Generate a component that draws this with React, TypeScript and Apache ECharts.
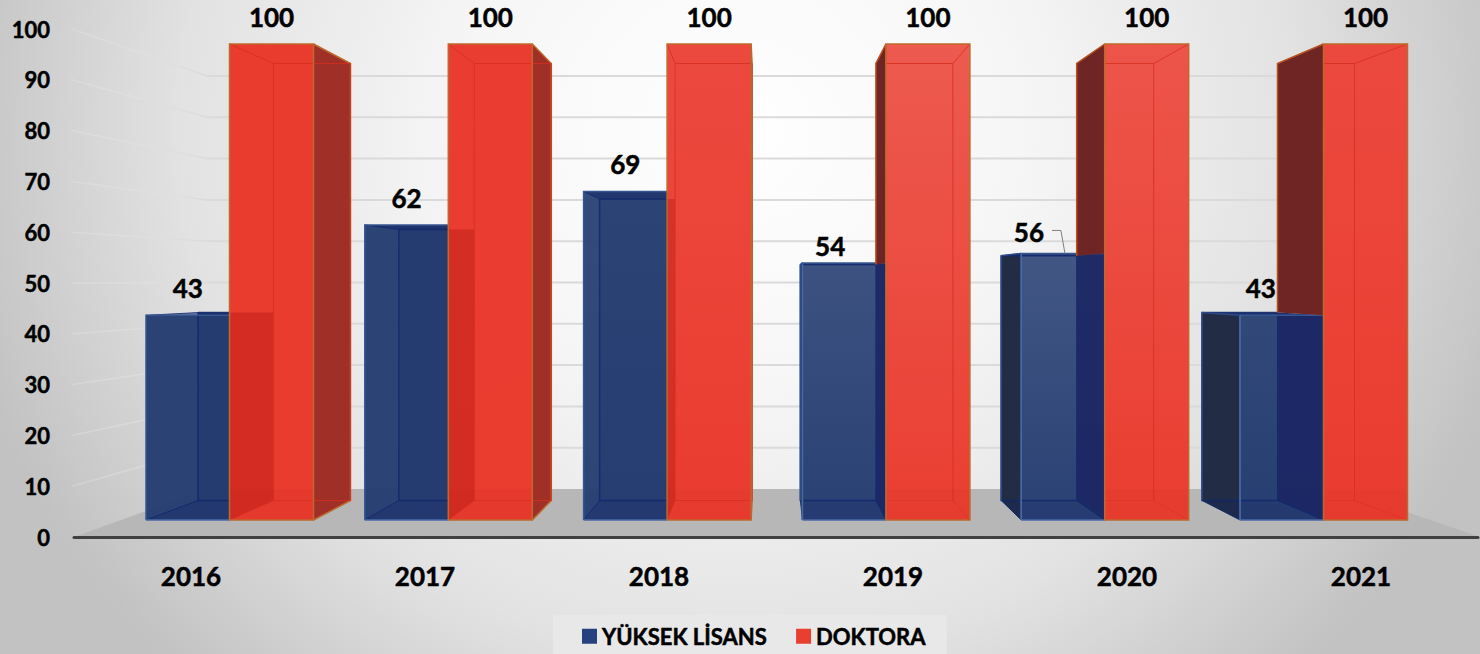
import React, { useEffect, useRef } from "react";
import * as echarts from "echarts";

const years = ["2016", "2017", "2018", "2019", "2020", "2021"];
const yuksekLisans = [43, 62, 69, 54, 56, 43];
const doktora = [100, 100, 100, 100, 100, 100];
const yTicks = [10, 20, 30, 40, 50, 60, 70, 80, 90, 100];

const FONT = "Lato, 'Open Sans', sans-serif";
const AX0 = 191, AXSTEP = 234, AY0 = 537, AYH = 508;
const fx = (ax: number) => 229.5 + ((ax - AX0) * 218.8) / AXSTEP;
const bx = (ax: number) => 273.5 + ((ax - AX0) * 200.8) / AXSTEP;
const fy = (ay: number) => 520 - ((AY0 - ay) * 476) / AYH;
const by = (ay: number) => 500.5 - ((AY0 - ay) * 437) / AYH;
const wy = (ay: number) => 489 - ((AY0 - ay) * 413) / AYH;

const sheenBlue = [0, 0, 0.03, 0.09, 0.11, 0.05];
const sheenRed = [0, 0.01, 0.06, 0.13, 0.11, 0.06];
const blueNudge = [[0, -27], [0, -27], [0, -28], [-14, -17], [-34, -21], [-21, -27]];

function mix(rgb: number[], k: number, a: number) {
  const c = rgb.map((v) => Math.round(v + (255 - v) * k));
  return `rgba(${c[0]},${c[1]},${c[2]},${a})`;
}
const poly = (points: number[][], fill: any, extra: any = {}) => ({
  type: "polygon",
  shape: { points },
  style: { fill, stroke: "none", ...extra },
});
const line = (points: number[][], stroke: any, lineWidth = 1) => ({
  type: "polyline",
  shape: { points },
  style: { fill: "none", stroke, lineWidth },
});
const label = (text: string, x: number, y: number) => ({
  type: "text",
  style: {
    text,
    x,
    y,
    align: "center",
    verticalAlign: "middle",
    font: `bold 26px ${FONT}`,
    fill: "#000",
    stroke: "#000",
    lineWidth: 0.5,
  },
});

function renderBlue(_: any, api: any) {
  const i = api.value(0);
  const v = api.value(1);
  const [ax, ay] = api.coord([i, v]);
  const [, a0] = api.coord([i, 0]);
  const fl = fx(ax) - 83.5, fr = fx(ax), bl = bx(ax) - 75.5, br = bx(ax);
  const ft = fy(ay), fb = fy(a0), bt = by(ay), bb = by(a0);
  const k = sheenBlue[i];
  const kids: any[] = [];
  const base = [36, 60, 112];
  kids.push(poly([[bl, bt], [br, bt], [br, bb], [bl, bb]], mix(base, k, 1)));
  if (bl < fl) kids.push(poly([[bl, bt], [fl, ft], [fl, fb], [bl, bb]], "#222d45"));
  if (br > fr) kids.push(poly([[fr, ft], [br, bt], [br, bb], [fr, fb]], "#1f3468"));
  kids.push(
    poly(
      [[fl, ft], [fr, ft], [fr, fb], [fl, fb]],
      new echarts.graphic.LinearGradient(0, 0, 0, 1, [
        { offset: 0, color: mix(base, k * 1.25, 0.96) },
        { offset: 1, color: mix(base, k * 0.2, 0.96) },
      ])
    )
  );
  if (br < fr) kids.push(poly([[br, bt], [fr, ft], [fr, fb], [br, bb]], "rgba(27,38,100,0.9)"));
  kids.push(poly([[fl, fb], [fr, fb], [br, bb], [bl, bb]], "rgba(18,36,100,0.28)"));
  kids.push(poly([[fl, ft], [fr, ft], [br, bt], [bl, bt]], "rgba(18,36,100,0.5)"));
  const inner = "rgba(16,40,110,0.85)";
  kids.push(line([[bl, bt], [br, bt]], inner, 1.5));
  kids.push(line([[bl, bt], [bl, bb], [br, bb]], inner, 1.5));
  kids.push(line([[br, bt], [br, bb]], inner, 1));
  kids.push(line([[fl, ft], [bl, bt]], inner));
  kids.push(line([[fl, fb], [bl, bb]], inner));
  kids.push(line([[fr, fb], [br, bb]], inner));
  kids.push(line([[fl, fb], [fl, ft], [fr, ft]], "#36568f", 1.5));
  kids.push(line([[fl, fb], [fr, fb]], "#4a6aa6", 1.5));
  if (bl < fl) kids.push(line([[fl, ft], [fl, fb]], "#4a6aa6", 1.5));
  if (bl < fl) kids.push(line([[bl, bb], [bl, bt], [fl, ft]], "#2f4a84", 1.5));
  const nudge = blueNudge[i];
  kids.push(label(String(v), (fl + fr) / 2 + nudge[0], ft + nudge[1]));
  if (nudge[0] === -34) {
    const tx = (fl + fr) / 2;
    kids.push(line([[tx - 11, ft - 23], [tx - 2, ft - 23], [tx + 2, ft]], "#808080", 1));
  }
  return { type: "group", children: kids };
}

function renderRed(_: any, api: any) {
  const i = api.value(0);
  const v = api.value(1);
  const [ax, ay] = api.coord([i, v]);
  const [, a0] = api.coord([i, 0]);
  const [, aBlue] = api.coord([i, yuksekLisans[i]]);
  const fl = fx(ax), fr = fx(ax) + 84, bl = bx(ax), br = bx(ax) + 77;
  const ft = fy(ay), fb = fy(a0), bt = by(ay), bb = by(a0);
  const k = sheenRed[i];
  const kids: any[] = [];
  const base = [234, 59, 47];
  const edge = "#bd6a2c";
  const bvl = Math.max(bl, fl);
  if (bl < fl) {
    kids.push(poly([[fl, ft], [fl, fy(aBlue)], [bl, by(aBlue)], [bl, bt]], "#6f2523"));
    kids.push(line([[bl, by(aBlue)], [bl, bt], [fl, ft]], "#b5511f", 1.5));
  }
  if (br > fr) {
    kids.push(poly([[fr, ft], [br, bt], [br, bb], [fr, fb]], "#a02f28"));
    kids.push(line([[fr, ft], [br, bt], [br, bb], [fr, fb]], edge, 1.5));
  }
  kids.push(
    poly(
      [[fl, ft], [fr, ft], [fr, fb], [fl, fb]],
      new echarts.graphic.LinearGradient(0, 0, 0, 1, [
        { offset: 0, color: mix(base, k * 1.2, 1) },
        { offset: 1, color: mix(base, k * 0.1, 1) },
      ])
    )
  );
  // the blue box seen through the red front face
  if (bl > fl) {
    const bt2 = by(aBlue);
    kids.push(poly([[fl, bt2], [bl, bt2], [bl, bb], [fl, fb]], "rgba(150,5,0,0.26)"));
  }
  // the floor seen through the red front face
  kids.push(poly([[fl, wy(a0)], [fr, wy(a0)], [fr, fb], [fl, fb]], "rgba(170,30,10,0.06)"));
  const inner = "rgba(214,46,30,0.8)";
  kids.push(line([[fl, ft], [bvl, bt]], inner));
  kids.push(line([[bvl, bt], [br, bt], [br, bb]], inner));
  if (bl >= fl) kids.push(line([[bl, bt], [bl, bb], [br, bb]], inner));
  else kids.push(line([[fl, bb], [br, bb]], "rgba(214,46,30,0.3)"));
  if (br < fr) {
    kids.push(line([[fr, ft], [br, bt]], inner));
    kids.push(line([[fr, fb], [br, bb]], "rgba(214,46,30,0.4)"));
  }
  if (bl >= fl) kids.push(line([[fl, fb], [bl, bb]], "rgba(214,46,30,0.5)"));
  kids.push(line([[fl, fb], [fl, ft], [fr, ft], [fr, fb], [fl, fb]], edge, 1.5));
  kids.push(label(String(v), (fl + fr) / 2, ft - 27));
  return { type: "group", children: kids };
}

function renderRoom(_: any, api: any) {
  const v = api.value(1);
  const [ax, ay] = api.coord([0, v]);
  const [, a0] = api.coord([0, 0]);
  const bl = 207, br = 1340;
  if (v === 0) {
    return poly(
      [[ax - 117, a0], [bl, wy(a0)], [br, wy(a0)], [ax + 1289, a0]],
      "#b7b7b7"
    );
  }
  const fade = new echarts.graphic.LinearGradient(0, 0, 1, 0, [
    { offset: 0, color: "rgba(232,232,232,0.3)" },
    { offset: 0.5, color: "rgba(226,226,226,0.5)" },
    { offset: 1, color: "#dadada" },
  ]);
  return {
    type: "group",
    children: [
      line([[72, ay], [bl, wy(ay)]], fade, 1.5),
      line([[bl, wy(ay)], [br, wy(ay)]], "#dadada", 2),
    ],
  };
}

export default function App() {
  const ref = useRef<HTMLDivElement>(null);
  useEffect(() => {
    const chart = echarts.init(ref.current!, null, { renderer: "svg" });
    const heavy = { textBorderColor: "#000", textBorderWidth: 0.5 };
    chart.setOption({
      animation: false,
      backgroundColor: "transparent",
      grid: { left: 74, right: 2, top: 29, bottom: 117, containLabel: false },
      legend: {
        left: 553,
        top: 615,
        padding: [10, 21, 7, 29],
        backgroundColor: "#e8e8e8",
        itemWidth: 15,
        itemHeight: 15,
        itemGap: 29,
        textStyle: { fontFamily: FONT, fontWeight: "bold", fontSize: 22, color: "#000", ...heavy },
        data: [
          { name: "YÜKSEK LİSANS", icon: "rect", itemStyle: { color: "#25427f" } },
          { name: "DOKTORA", icon: "rect", itemStyle: { color: "#e83f30" } },
        ],
      },
      xAxis: {
        type: "category",
        data: years,
        axisTick: { show: false },
        axisLine: { show: true, lineStyle: { color: "#404040", width: 3 } },
        axisLabel: { margin: 26, fontFamily: FONT, fontWeight: "bold", fontSize: 26, color: "#000", ...heavy },
        z: 10,
      },
      yAxis: {
        type: "value",
        min: 0,
        max: 100,
        interval: 10,
        axisLine: { show: false },
        axisTick: { show: false },
        splitLine: { show: false },
        axisLabel: { margin: 24, fontFamily: FONT, fontWeight: "bold", fontSize: 22, color: "#000", ...heavy },
      },
      series: [
        {
          type: "custom",
          name: "duvar",
          silent: true,
          z: 1,
          renderItem: renderRoom,
          encode: { x: 0, y: 1 },
          data: [[0, 0], ...yTicks.map((t) => [0, t])],
        },
        {
          type: "custom",
          name: "YÜKSEK LİSANS",
          z: 3,
          itemStyle: { color: "#25427f" },
          renderItem: renderBlue,
          encode: { x: 0, y: 1 },
          data: yuksekLisans.map((v, i) => [i, v]),
        },
        {
          type: "custom",
          name: "DOKTORA",
          z: 4,
          itemStyle: { color: "#e83f30" },
          renderItem: renderRed,
          encode: { x: 0, y: 1 },
          data: doktora.map((v, i) => [i, v]),
        },
      ],
    });
    return () => chart.dispose();
  }, []);
  return (
    <div
      ref={ref}
      style={{
        position: "absolute",
        left: 0,
        top: 0,
        width: 1480,
        height: 654,
        background:
          "radial-gradient(ellipse 800px 760px at 740px 130px, #ffffff 0%, #f6f6f6 35%, #e2e2e2 70%, #c2c2c2 100%)",
      }}
    />
  );
}
